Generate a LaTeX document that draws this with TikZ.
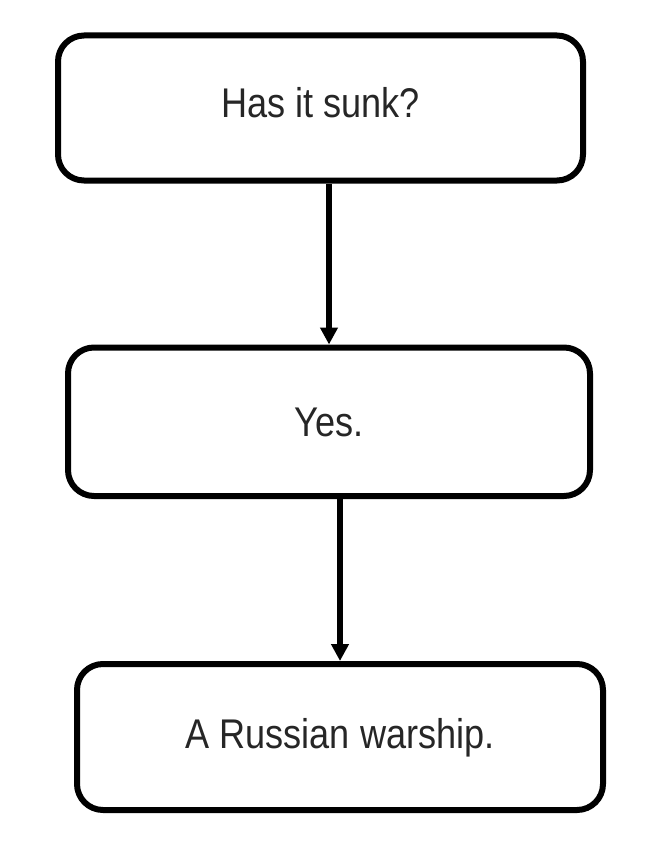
\documentclass[tikz,border=0pt]{standalone}
\usepackage{fontspec}
\setmainfont{Liberation Sans}[FakeStretch=0.87]
\usetikzlibrary{arrows.meta}
\begin{document}
\begin{tikzpicture}[x=1pt,y=-1pt,
  flowbox/.style={draw=black, line width=6pt, rounded corners=26pt,
    minimum width=525pt, minimum height=146pt, inner sep=0pt,
    font=\fontsize{41.5}{48}\selectfont, text=black!85, text height=30pt},
  flowarrow/.style={line width=6pt, -{Triangle[width=17pt,length=17pt]}}]
\useasboundingbox (0,0) rectangle (659,851);
\node[flowbox, minimum height=145pt, text depth=12pt] (b1) at (320.5,108) {Has it sunk?};
\node[flowbox, minimum width=522pt, minimum height=148.5pt, text depth=1.5pt] (b2) at (329,421.75) {Yes.};
\node[flowbox, minimum width=526pt, text depth=8pt] (b3) at (340,737) {A Russian warship.};
\draw[flowarrow] (b1.south -| b2.north) -- (b2.north);
\draw[flowarrow] (b2.south -| b3.north) -- (b3.north);
\end{tikzpicture}
\end{document}
